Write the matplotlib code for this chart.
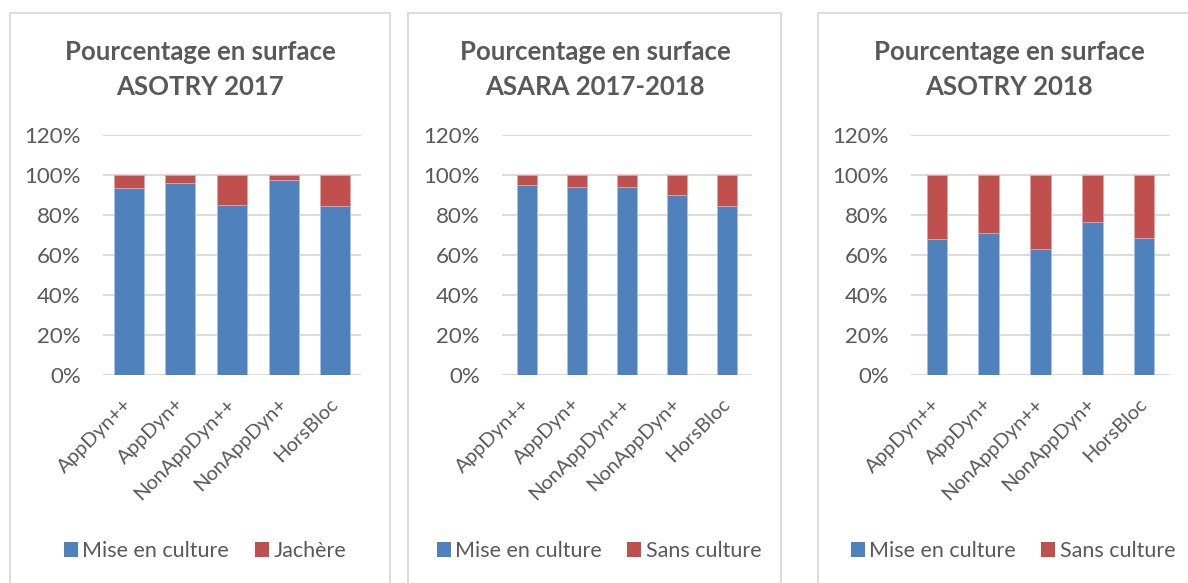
import matplotlib
matplotlib.use('Agg')
import matplotlib.pyplot as plt
from matplotlib.patches import Rectangle, Patch

plt.rcParams['font.family'] = ['Lato', 'DejaVu Sans']

categories = ['AppDyn++', 'AppDyn+', 'NonAppDyn++', 'NonAppDyn+', 'HorsBloc']

titles_l1 = ['Pourcentage en surface'] * 3
titles_l2 = ['ASOTRY 2017', 'ASARA 2017-2018', 'ASOTRY 2018']

culture_2017 = [93.3, 96.0, 84.8, 97.3, 84.7]
culture_asara = [95.0, 94.0, 93.8, 89.8, 84.3]
culture_2018 = [67.8, 70.8, 62.8, 76.3, 68.3]
culture = [culture_2017, culture_asara, culture_2018]

legend_labels = [['Mise en culture', 'Jachère'],
                 ['Mise en culture', 'Sans culture'],
                 ['Mise en culture', 'Sans culture']]

yticks = [0, 20, 40, 60, 80, 100, 120]

blue = '#4F81BD'
red = '#C0504D'
grey = '#595959'
grid = '#D9D9D9'

W, H = 1188, 583
fig = plt.figure(figsize=(W/100, H/100), dpi=100)

# panel frames (pixels): left, right
frames = [(10, 390), (408, 781), (818, 1200)]
# axes extents (pixels): left, right
axes_x = [(103, 361), (502, 752), (911, 1170)]
bar_w = [0.58, 0.4, 0.4]
title_cx = [200, 595, 1009]
legend_cx = [205, 599, 1013]

for i in range(3):
    fl, fr = frames[i]
    fig.patches.append(Rectangle((fl/W, -0.1), (fr-fl)/W, 1.1 - 13/H,
                                 transform=fig.transFigure, fill=False,
                                 edgecolor=grid, linewidth=1.3))
    l, r = axes_x[i]
    ax = fig.add_axes([l/W, (H-375)/H, (r-l)/W, 240/H])
    vals = culture[i]
    rest = [100 - v for v in vals]
    x = range(len(categories))
    ax.bar(x, vals, bar_w[i], color=blue, edgecolor='#A9BFDD', linewidth=0.6, zorder=3)
    ax.bar(x, rest, bar_w[i], bottom=vals, color=red, edgecolor='#DDA5A3', linewidth=0.6, zorder=3)
    ax.set_xlim(-0.5, len(categories) - 0.5)
    ax.set_ylim(0, 120)
    ax.set_yticks(yticks)
    ax.set_yticklabels(['%d%%' % t for t in yticks], fontsize=16, color=grey)
    ax.set_xticks(list(x))
    ax.set_xticklabels(categories, rotation=45, ha='right', va='center',
                       rotation_mode='anchor', fontsize=14.5, color=grey)
    ax.tick_params(axis='both', length=0)
    ax.tick_params(axis='y', pad=16)
    ax.tick_params(axis='x', pad=19)
    ax.grid(axis='y', color=grid, linewidth=1.3, zorder=0)
    for s in ax.spines.values():
        s.set_visible(False)
    ax.axhline(0, color=grid, linewidth=1.3, zorder=2)
    fig.text(title_cx[i]/W, 1 - 52/H, titles_l1[i], ha='center', va='center',
             fontsize=18.5, fontweight='bold', color=grey)
    fig.text(title_cx[i]/W, 1 - 87/H, titles_l2[i], ha='center', va='center',
             fontsize=18.5, fontweight='bold', color=grey)
    handles = [Patch(facecolor=blue), Patch(facecolor=red)]
    fig.legend(handles, legend_labels[i], loc='center',
               bbox_to_anchor=(legend_cx[i]/W, 1 - 551/H), ncol=2, frameon=False,
               fontsize=15.5, labelcolor=grey, handlelength=0.65, handleheight=0.65,
               handletextpad=0.2, columnspacing=1.2)

fig.savefig('out.png', dpi=100, facecolor='white')
